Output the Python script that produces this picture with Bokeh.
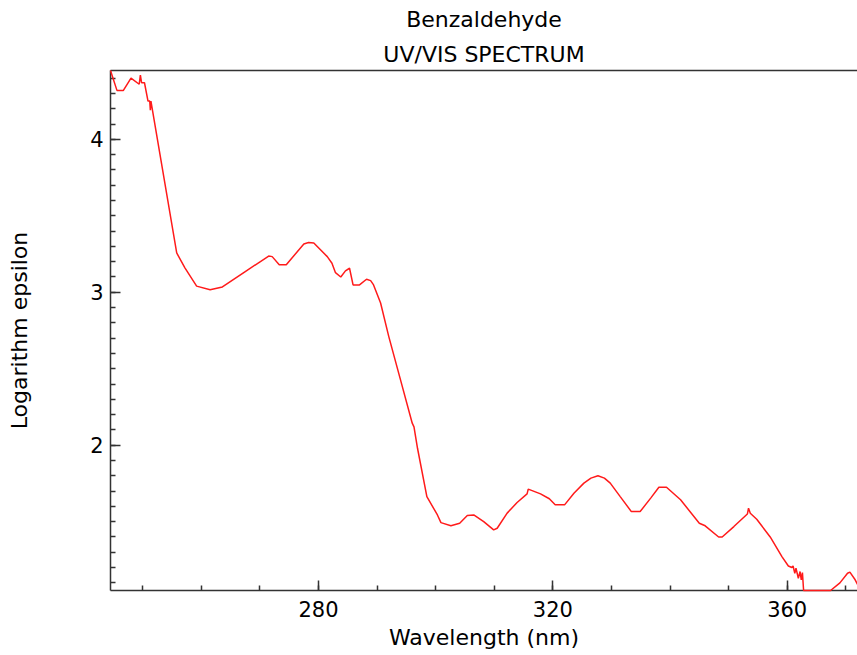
from bokeh.plotting import figure
from bokeh.models import LinearAxis, SingleIntervalTicker, FixedTicker, Title, Range1d
from bokeh.embed import file_html
from bokeh.resources import INLINE

# Benzaldehyde UV/VIS absorption: wavelength (nm) vs log10(epsilon)
wavelength = [
    244.5, 245.6, 246.7, 248.0, 249.4, 249.6, 249.8, 250.3, 250.9, 251.2,
    251.3, 251.4, 255.8, 257.2, 259.2, 261.5, 263.6, 267.5, 271.5, 272.1,
    273.3, 274.5, 277.5, 278.3, 279.2, 281.5, 282.3, 282.9, 283.8, 284.6,
    285.3, 285.9, 287.0, 288.2, 288.9, 289.4, 290.6, 292.0, 294.0, 296.0,
    296.3, 296.9, 298.5, 300.3, 300.9, 302.6, 304.1, 305.4, 306.5, 308.2,
    309.9, 310.5, 312.2, 313.9, 315.6, 315.8, 317.9, 319.4, 320.4, 322.0,
    323.6, 325.3, 326.5, 327.7, 328.8, 329.8, 331.5, 333.4, 334.9, 336.7,
    338.1, 339.4, 341.8, 345.0, 346.0, 348.3, 348.9, 350.9, 353.2, 353.4,
    353.7, 354.8, 357.1, 359.1, 360.2, 360.8, 361.0, 361.3, 361.5, 361.9,
    362.2, 362.4, 362.6, 362.8, 367.4, 369.0, 370.3, 370.7, 371.6, 372.0,
]
log_epsilon = [
    4.45, 4.32, 4.32, 4.40, 4.36, 4.42, 4.37, 4.37, 4.25, 4.25,
    4.19, 4.25, 3.257, 3.16, 3.04, 3.017, 3.035, 3.135, 3.237, 3.233,
    3.18, 3.18, 3.316, 3.325, 3.322, 3.233, 3.19, 3.128, 3.10, 3.14,
    3.157, 3.048, 3.048, 3.085, 3.076, 3.048, 2.93, 2.71, 2.427, 2.144,
    2.12, 1.98, 1.664, 1.544, 1.494, 1.473, 1.49, 1.54, 1.544, 1.50,
    1.446, 1.457, 1.556, 1.625, 1.682, 1.713, 1.682, 1.65, 1.61, 1.61,
    1.686, 1.752, 1.785, 1.80, 1.785, 1.752, 1.664, 1.566, 1.566, 1.654,
    1.725, 1.725, 1.643, 1.49, 1.473, 1.40, 1.40, 1.468, 1.55, 1.588,
    1.555, 1.516, 1.40, 1.272, 1.21, 1.20, 1.21, 1.163, 1.196, 1.13,
    1.174, 1.12, 1.167, 1.05, 1.05, 1.10, 1.163, 1.17, 1.12, 1.09,
]

x_start, x_end = 244.5, 372.0
y_start, y_end = 1.05, 4.45

FONT = "DejaVu Sans"
AXIS_COLOR = "#333333"

p = figure(
    frame_width=747, frame_height=520,
    min_border_left=110, min_border_right=0,
    min_border_top=70, min_border_bottom=65,
    x_range=Range1d(x_start, x_end), y_range=Range1d(y_start, y_end),
    x_axis_type=None, y_axis_type=None,
    output_backend="svg", toolbar_location=None,
    background_fill_color="white", border_fill_color="white",
)
p.outline_line_color = None
p.xgrid.visible = False
p.ygrid.visible = False


def style_axis(ax):
    ax.axis_line_color = AXIS_COLOR
    ax.axis_line_width = 1.5
    ax.major_tick_line_color = AXIS_COLOR
    ax.minor_tick_line_color = AXIS_COLOR
    ax.major_tick_line_width = 1.5
    ax.minor_tick_line_width = 1.5
    ax.major_tick_in = 10
    ax.major_tick_out = 0
    ax.minor_tick_in = 5
    ax.minor_tick_out = 0
    ax.major_label_text_font = FONT
    ax.major_label_text_font_size = "21px"
    ax.major_label_text_color = "black"
    ax.axis_label_text_font = FONT
    ax.axis_label_text_font_size = "22px"
    ax.axis_label_text_font_style = "normal"
    ax.axis_label_text_color = "black"


xaxis = LinearAxis(
    ticker=SingleIntervalTicker(interval=40, num_minor_ticks=4),
    axis_label="Wavelength (nm)",
)
style_axis(xaxis)
xaxis.major_label_standoff = 10
xaxis.axis_label_standoff = 5
p.add_layout(xaxis, "below")

yaxis = LinearAxis(
    ticker=SingleIntervalTicker(interval=1, num_minor_ticks=10),
    axis_label="Logarithm epsilon",
)
style_axis(yaxis)
yaxis.major_label_standoff = 7
yaxis.axis_label_standoff = 55
p.add_layout(yaxis, "left")

# plain top border line
top = LinearAxis(ticker=FixedTicker(ticks=[]))
top.axis_line_color = AXIS_COLOR
top.axis_line_width = 1.5
top.major_tick_line_color = None
top.minor_tick_line_color = None
top.major_label_text_font_size = "0px"
p.add_layout(top, "above")

p.add_layout(Title(text="UV/VIS SPECTRUM", align="center", text_font=FONT,
                   text_font_size="22px", text_font_style="normal",
                   text_color="black", standoff=8), "above")
p.add_layout(Title(text="Benzaldehyde", align="center", text_font=FONT,
                   text_font_size="22px", text_font_style="normal",
                   text_color="black", standoff=7), "above")

p.line(wavelength, log_epsilon, line_color="#ff1a1a", line_width=1.5,
       level="overlay")

open("out.html", "w").write(file_html(p, INLINE))
